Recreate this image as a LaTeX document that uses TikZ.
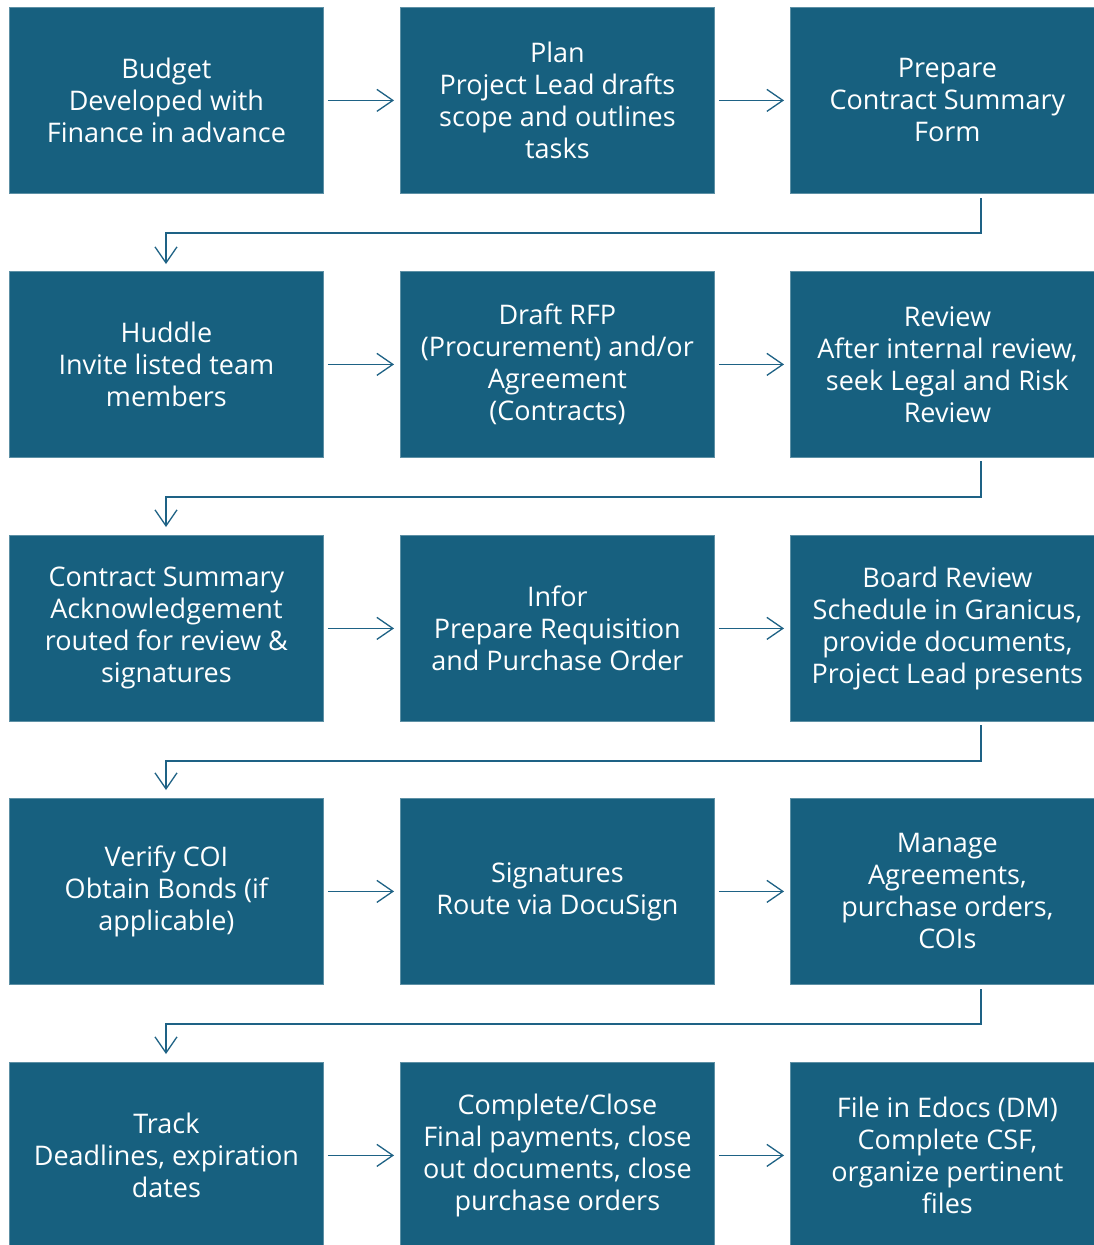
\documentclass[tikz,border=0pt]{standalone}
\usepackage{fontspec}
\setmainfont{Open Sans}
\usetikzlibrary{arrows.meta}
\definecolor{boxblue}{HTML}{17607F}
\definecolor{linkblue}{HTML}{1E6285}
\tikzset{
  stepbox/.style={fill=boxblue, draw=boxblue!70!white, line width=0.8pt, minimum width=314pt, minimum height=186pt, anchor=north west, inner sep=0pt, text=white, align=center, font=\fontsize{27}{32}\selectfont},
  link/.style={draw=linkblue, line width=1.3pt, -{Straight Barb[length=16pt,width=22pt,line width=1.3pt]}}
}
\begin{document}
\begin{tikzpicture}[x=1pt,y=-1pt]
\useasboundingbox (0,0) rectangle (1094,1245);
\clip (0,0) rectangle (1094,1245);
\fill[white] (0,0) rectangle (1094,1245);
% row 1
\node[stepbox] (a1) at (9,7) {Budget\\Developed with\\Finance in advance};
\node[stepbox] (a2) at (400,7) {Plan\\Project Lead drafts\\scope and outlines\\tasks};
\node[stepbox] (a3) at (790,7) {Prepare\\Contract Summary\\Form};
% row 2
\node[stepbox] (b1) at (9,271) {Huddle\\Invite listed team\\members};
\node[stepbox] (b2) at (400,271) {Draft RFP\\(Procurement) and/or\\Agreement\\(Contracts)};
\node[stepbox] (b3) at (790,271) {Review\\After internal review,\\seek Legal and Risk\\Review};
% row 3
\node[stepbox] (c1) at (9,535) {Contract Summary\\Acknowledgement\\routed for review \&\\signatures};
\node[stepbox] (c2) at (400,535) {Infor\\Prepare Requisition\\and Purchase Order};
\node[stepbox] (c3) at (790,535) {Board Review\\Schedule in Granicus,\\provide documents,\\Project Lead presents};
% row 4
\node[stepbox] (d1) at (9,798) {Verify COI\\Obtain Bonds (if\\applicable)};
\node[stepbox] (d2) at (400,798) {Signatures\\Route via DocuSign};
\node[stepbox] (d3) at (790,798) {Manage\\Agreements,\\purchase orders,\\COIs};
% row 5
\node[stepbox] (e1) at (9,1062) {Track\\Deadlines, expiration\\dates};
\node[stepbox] (e2) at (400,1062) {Complete/Close\\Final payments, close\\out documents, close\\purchase orders};
\node[stepbox] (e3) at (790,1062) {File in Edocs (DM)\\Complete CSF,\\organize pertinent\\files};
% horizontal links
\foreach \r in {a,b,c,d,e}{
  \draw[link] ([xshift=4pt]\r1.east) -- ([xshift=-6pt]\r2.west);
  \draw[link] ([xshift=4pt]\r2.east) -- ([xshift=-6pt]\r3.west);
}
% elbow links
\coordinate (s1) at (981,198);
\draw[link] (s1) -- (981,233) -- (166,233) -- (166,264);
\draw[link] (981,461) -- (981,497) -- (166,497) -- (166,527);
\draw[link] (981,725) -- (981,761) -- (166,761) -- (166,790);
\draw[link] (981,989) -- (981,1024) -- (166,1024) -- (166,1054);
\end{tikzpicture}
\end{document}
